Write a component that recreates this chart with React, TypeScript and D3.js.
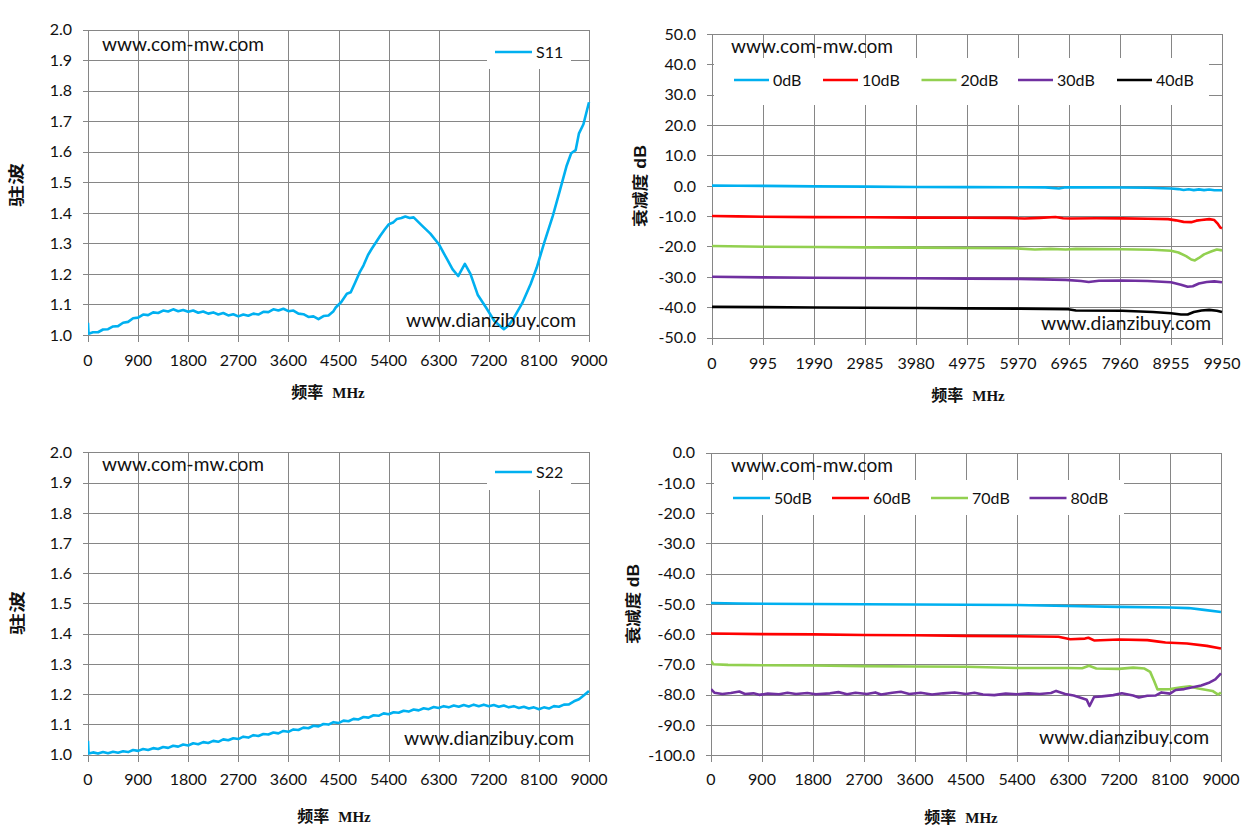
import React from "react";
import * as d3 from "d3";

type Pt = [number, number];

// ---------- DATA ----------
const freqTicks9000 = [0, 900, 1800, 2700, 3600, 4500, 5400, 6300, 7200, 8100, 9000];
const freqTicks9950 = [0, 995, 1990, 2985, 3980, 4975, 5970, 6965, 7960, 8955, 9950];
const vswrTicks = [1.0, 1.1, 1.2, 1.3, 1.4, 1.5, 1.6, 1.7, 1.8, 1.9, 2.0];
const attTicksTop = [50, 40, 30, 20, 10, 0, -10, -20, -30, -40, -50];
const attTicksBottom = [0, -10, -20, -30, -40, -50, -60, -70, -80, -90, -100];

const s11: Pt[] = [
  [0, 1.040], [10, 1.004], [90, 1.009], [180, 1.009], [270, 1.018], [360, 1.019], [450, 1.028],
  [540, 1.029], [630, 1.040], [720, 1.043], [810, 1.055], [900, 1.057], [990, 1.067], [1080, 1.065],
  [1170, 1.074], [1260, 1.072], [1350, 1.080], [1440, 1.077], [1530, 1.084], [1620, 1.078],
  [1710, 1.082], [1800, 1.076], [1890, 1.080], [1980, 1.073], [2070, 1.077], [2160, 1.070],
  [2250, 1.074], [2340, 1.067], [2430, 1.072], [2520, 1.064], [2610, 1.068], [2700, 1.061],
  [2790, 1.067], [2880, 1.063], [2970, 1.070], [3060, 1.067], [3150, 1.076], [3240, 1.075],
  [3330, 1.084], [3420, 1.080], [3510, 1.086], [3600, 1.078], [3690, 1.080], [3780, 1.070],
  [3870, 1.068], [3960, 1.059], [4050, 1.061], [4140, 1.052], [4230, 1.062], [4320, 1.064],
  [4410, 1.078], [4450, 1.090], [4550, 1.108], [4650, 1.135], [4720, 1.140], [4800, 1.172],
  [4880, 1.205], [4950, 1.228], [5030, 1.262], [5100, 1.283], [5180, 1.305], [5250, 1.325],
  [5330, 1.345], [5400, 1.362], [5480, 1.368], [5550, 1.380], [5630, 1.383], [5700, 1.388],
  [5780, 1.383], [5850, 1.385], [6000, 1.358], [6150, 1.332], [6300, 1.298], [6450, 1.248],
  [6550, 1.215], [6650, 1.193], [6770, 1.233], [6870, 1.200], [7000, 1.132], [7150, 1.090],
  [7300, 1.046], [7470, 1.019], [7560, 1.032], [7650, 1.056], [7800, 1.104], [7950, 1.166],
  [8060, 1.220], [8200, 1.305], [8350, 1.390], [8480, 1.475], [8600, 1.555], [8680, 1.595],
  [8760, 1.605], [8820, 1.660], [8900, 1.690], [9000, 1.762],
];

const s22: Pt[] = [
  [0, 1.045], [10, 1.003], [90, 1.007], [180, 1.003], [270, 1.008], [360, 1.004], [450, 1.009],
  [540, 1.006], [630, 1.011], [720, 1.008], [810, 1.015], [900, 1.012], [990, 1.018], [1080, 1.015],
  [1170, 1.021], [1260, 1.018], [1350, 1.025], [1440, 1.022], [1530, 1.029], [1620, 1.026],
  [1710, 1.033], [1800, 1.030], [1890, 1.037], [1980, 1.034], [2070, 1.041], [2160, 1.038],
  [2250, 1.045], [2340, 1.042], [2430, 1.050], [2520, 1.047], [2610, 1.054], [2700, 1.051],
  [2790, 1.059], [2880, 1.056], [2970, 1.064], [3060, 1.061], [3150, 1.068], [3240, 1.066],
  [3330, 1.073], [3420, 1.070], [3510, 1.078], [3600, 1.075], [3690, 1.083], [3780, 1.081],
  [3870, 1.089], [3960, 1.087], [4050, 1.095], [4140, 1.093], [4230, 1.101], [4320, 1.099],
  [4410, 1.107], [4500, 1.104], [4590, 1.112], [4680, 1.110], [4770, 1.118], [4860, 1.116],
  [4950, 1.124], [5040, 1.122], [5130, 1.130], [5220, 1.128], [5310, 1.136], [5400, 1.133],
  [5490, 1.140], [5580, 1.138], [5670, 1.145], [5760, 1.142], [5850, 1.149], [5940, 1.146],
  [6030, 1.153], [6120, 1.150], [6210, 1.157], [6300, 1.154], [6390, 1.160], [6480, 1.156],
  [6570, 1.162], [6660, 1.158], [6750, 1.164], [6840, 1.159], [6930, 1.165], [7020, 1.160],
  [7110, 1.165], [7200, 1.160], [7290, 1.164], [7380, 1.158], [7470, 1.162], [7560, 1.156],
  [7650, 1.160], [7740, 1.154], [7830, 1.158], [7920, 1.152], [8010, 1.156], [8100, 1.150],
  [8190, 1.156], [8280, 1.152], [8370, 1.160], [8460, 1.158], [8550, 1.165], [8640, 1.166],
  [8730, 1.176], [8820, 1.183], [8910, 1.196], [9000, 1.210],
];

const att0: Pt[] = [
  [0, 0.05], [500, 0.0], [995, -0.05], [2000, -0.2], [3000, -0.3], [4000, -0.4], [5000, -0.45],
  [6000, -0.5], [6500, -0.55], [6770, -0.9], [6900, -0.5], [7500, -0.55], [8000, -0.6],
  [8500, -0.65], [8950, -0.9], [9100, -1.1], [9200, -1.4], [9300, -1.15], [9400, -1.45],
  [9500, -1.2], [9600, -1.45], [9700, -1.25], [9800, -1.5], [9950, -1.5],
];
const att10: Pt[] = [
  [0, -9.95], [500, -10.1], [1000, -10.2], [2000, -10.35], [3000, -10.4], [4000, -10.5],
  [5000, -10.55], [5800, -10.6], [6100, -10.8], [6400, -10.6], [6700, -10.3], [6850, -10.7],
  [7000, -10.8], [7500, -10.7], [8000, -10.75], [8500, -10.85], [8900, -11.0], [9050, -11.4],
  [9200, -11.9], [9350, -12.0], [9450, -11.5], [9550, -11.3], [9700, -11.0], [9800, -11.3],
  [9870, -12.6], [9920, -13.8], [9950, -14.0],
];
const att20: Pt[] = [
  [0, -19.85], [1000, -20.1], [2000, -20.2], [3000, -20.3], [4000, -20.4], [5000, -20.5],
  [5900, -20.6], [6300, -21.0], [6600, -20.8], [6900, -21.0], [7100, -20.8], [8000, -20.9],
  [8600, -21.1], [8955, -21.4], [9100, -22.0], [9250, -23.2], [9350, -24.3], [9420, -24.6],
  [9500, -23.8], [9600, -22.6], [9750, -21.6], [9850, -21.0], [9950, -21.3],
];
const att30: Pt[] = [
  [0, -29.98], [1000, -30.2], [2000, -30.3], [3000, -30.4], [4000, -30.5], [5000, -30.6],
  [6000, -30.7], [6900, -31.0], [7200, -31.4], [7350, -31.7], [7550, -31.3], [8000, -31.2],
  [8500, -31.4], [8955, -31.8], [9150, -32.6], [9280, -33.3], [9380, -33.1], [9500, -32.2],
  [9650, -31.7], [9800, -31.5], [9950, -31.8],
];
const att40: Pt[] = [
  [0, -39.9], [1000, -40.0], [2000, -40.1], [3000, -40.2], [4000, -40.3], [5000, -40.4],
  [6000, -40.5], [6950, -40.7], [7100, -41.1], [8000, -41.2], [8600, -41.6], [8955, -42.0],
  [9150, -42.4], [9280, -42.4], [9400, -41.6], [9550, -41.1], [9700, -40.9], [9850, -41.2],
  [9950, -41.6],
];

const att50: Pt[] = [
  [0, -49.7], [500, -49.9], [1800, -50.05], [3600, -50.2], [5400, -50.4], [6300, -50.7],
  [7200, -51.0], [8100, -51.2], [8430, -51.4], [8700, -52.0], [9000, -52.7],
];
const att60: Pt[] = [
  [0, -59.8], [900, -60.0], [1800, -60.1], [2700, -60.3], [3600, -60.4], [4500, -60.6],
  [5400, -60.7], [6130, -60.9], [6340, -61.7], [6600, -61.5], [6660, -61.2], [6760, -62.1],
  [7200, -61.8], [7700, -62.0], [7900, -62.5], [8020, -62.8], [8400, -63.1], [8750, -63.9],
  [9000, -64.8],
];
const att70: Pt[] = [
  [0, -68.8], [40, -70.0], [300, -70.2], [900, -70.3], [1800, -70.4], [2700, -70.6],
  [3600, -70.7], [4500, -70.8], [5400, -71.2], [6300, -71.2], [6550, -71.3], [6670, -70.5],
  [6800, -71.4], [7200, -71.5], [7450, -71.1], [7650, -71.4], [7750, -72.5], [7820, -75.5],
  [7880, -78.3], [8100, -78.2], [8300, -77.6], [8450, -77.3], [8600, -78.0], [8850, -78.8],
  [8950, -80.0], [9000, -79.3],
];
const att80: Pt[] = [
  [0, -78.2], [60, -79.4], [200, -79.8], [350, -79.5], [500, -79.0], [600, -79.8], [750, -79.6],
  [850, -80.1], [1000, -79.7], [1200, -79.9], [1350, -79.4], [1500, -79.8], [1700, -79.5],
  [1850, -79.9], [2100, -79.6], [2250, -79.2], [2400, -79.9], [2550, -79.4], [2750, -79.8],
  [2900, -79.3], [3000, -80.0], [3200, -79.4], [3350, -79.1], [3500, -79.8], [3700, -79.4],
  [3900, -80.0], [4100, -79.6], [4300, -79.3], [4500, -79.8], [4650, -79.4], [4800, -80.0],
  [5000, -80.2], [5200, -79.7], [5400, -79.9], [5600, -79.6], [5800, -79.8], [6000, -79.5],
  [6090, -78.8], [6250, -79.8], [6400, -80.3], [6550, -81.2], [6630, -81.7], [6680, -83.8],
  [6760, -80.8], [6900, -80.6], [7100, -80.2], [7250, -79.6], [7450, -80.3], [7550, -81.0],
  [7700, -80.4], [7850, -80.3], [7950, -79.3], [8100, -79.7], [8200, -78.5], [8350, -78.2],
  [8500, -77.6], [8650, -77.0], [8800, -76.0], [8900, -75.0], [9000, -73.0],
];

const BLUE = "#00B0F0";
const RED = "#FF0000";
const GREEN = "#92D050";
const PURPLE = "#7030A0";
const BLACK = "#000000";

// ---------- LAYOUT / STYLE ----------
const GRID = "#868686";
const TICK_FONT = "Lato, 'Liberation Sans', sans-serif";
const CJK_FONT = "'Noto Sans CJK SC', sans-serif";

type Series = { name: string; color: string; data: Pt[] };
type LegendCfg = { box: [number, number, number, number]; cy: number; itemX: number[]; lineLen: number };
type PanelCfg = {
  id: string;
  left: number; right: number; top: number; bottom: number;
  xDomain: [number, number]; xTicks: number[];
  yDomain: [number, number]; yTicks: number[];
  series: Series[];
  legend: LegendCfg;
  xTickY: number;
  yTitle: string; yTitleX: number; yTitleY: number; yTitleLen: number; yTitleDb: boolean;
  xTitleX: number; xTitleY: number;
  wm1: [number, number]; wm2: [number, number];
};

const panels: PanelCfg[] = [
  {
    id: "p1", left: 88, right: 589, top: 29.5, bottom: 335,
    xDomain: [0, 9000], xTicks: freqTicks9000, yDomain: [1, 2], yTicks: vswrTicks,
    series: [{ name: "S11", color: BLUE, data: s11 }],
    legend: { box: [487, 31, 84, 38], cy: 52, itemX: [495], lineLen: 37 },
    xTickY: 360,
    yTitle: "驻波", yTitleX: 16, yTitleY: 185, yTitleLen: 44, yTitleDb: false,
    xTitleX: 328, xTitleY: 392,
    wm1: [102, 51], wm2: [406, 327],
  },
  {
    id: "p2", left: 712, right: 1222, top: 34, bottom: 337.5,
    xDomain: [0, 9950], xTicks: freqTicks9950, yDomain: [-50, 50], yTicks: attTicksTop,
    series: [
      { name: "0dB", color: BLUE, data: att0 },
      { name: "10dB", color: RED, data: att10 },
      { name: "20dB", color: GREEN, data: att20 },
      { name: "30dB", color: PURPLE, data: att30 },
      { name: "40dB", color: BLACK, data: att40 },
    ],
    legend: { box: [714, 58, 495, 47], cy: 80, itemX: [734, 823, 921.5, 1018, 1117], lineLen: 35 },
    xTickY: 363,
    yTitle: "衰减度", yTitleX: 640, yTitleY: 186, yTitleLen: 82, yTitleDb: true,
    xTitleX: 968, xTitleY: 395,
    wm1: [731, 53], wm2: [1041, 330],
  },
  {
    id: "p3", left: 88, right: 589, top: 452.3, bottom: 754.5,
    xDomain: [0, 9000], xTicks: freqTicks9000, yDomain: [1, 2], yTicks: vswrTicks,
    series: [{ name: "S22", color: BLUE, data: s22 }],
    legend: { box: [487, 453, 84, 37], cy: 472, itemX: [495], lineLen: 37 },
    xTickY: 779,
    yTitle: "驻波", yTitleX: 17, yTitleY: 613, yTitleLen: 44, yTitleDb: false,
    xTitleX: 334, xTitleY: 816,
    wm1: [102, 471], wm2: [404, 745],
  },
  {
    id: "p4", left: 711, right: 1221, top: 452.7, bottom: 755,
    xDomain: [0, 9000], xTicks: freqTicks9000, yDomain: [-100, 0], yTicks: attTicksBottom,
    series: [
      { name: "50dB", color: BLUE, data: att50 },
      { name: "60dB", color: RED, data: att60 },
      { name: "70dB", color: GREEN, data: att70 },
      { name: "80dB", color: PURPLE, data: att80 },
    ],
    legend: { box: [714, 480, 410, 35], cy: 498, itemX: [733, 832, 931, 1029.5], lineLen: 37 },
    xTickY: 779,
    yTitle: "衰减度", yTitleX: 633, yTitleY: 604, yTitleLen: 80, yTitleDb: true,
    xTitleX: 961, xTitleY: 817,
    wm1: [731, 472], wm2: [1039, 744],
  },
];

const crisp = (v: number) => Math.round(v) + 0.5;

function Panel({ cfg }: { cfg: PanelCfg }) {
  const x = d3.scaleLinear().domain(cfg.xDomain).range([cfg.left, cfg.right]);
  const y = d3.scaleLinear().domain(cfg.yDomain).range([cfg.bottom, cfg.top]);
  const line = d3.line<Pt>().x((d) => x(d[0])).y((d) => y(d[1]));
  const [bx, by, bw, bh] = cfg.legend.box;
  const L = crisp(cfg.left), R = crisp(cfg.right), T = crisp(cfg.top), B = crisp(cfg.bottom);
  return (
    <g>
      <defs>
        <clipPath id={`clip-${cfg.id}`}>
          <rect x={cfg.left} y={cfg.top - 2} width={cfg.right - cfg.left + 2} height={cfg.bottom - cfg.top + 4} />
        </clipPath>
      </defs>
      {/* grid */}
      <g stroke={GRID} strokeWidth={1} shapeRendering="crispEdges">
        {cfg.yTicks.map((t) => (
          <line key={`h${t}`} x1={L - 6} x2={R} y1={crisp(y(t))} y2={crisp(y(t))} />
        ))}
        {cfg.xTicks.map((t) => (
          <line key={`v${t}`} x1={crisp(x(t))} x2={crisp(x(t))} y1={T} y2={B + 6} />
        ))}
      </g>
      {/* legend box (covers gridlines) */}
      <rect x={bx} y={by} width={bw} height={bh} fill="#fff" />
      {cfg.series.map((s, i) => (
        <g key={s.name}>
          <line
            x1={cfg.legend.itemX[i]}
            x2={cfg.legend.itemX[i] + cfg.legend.lineLen}
            y1={cfg.legend.cy}
            y2={cfg.legend.cy}
            stroke={s.color}
            strokeWidth={2.5}
          />
          <text
            x={cfg.legend.itemX[i] + cfg.legend.lineLen + 4}
            y={cfg.legend.cy}
            dy="0.36em"
            fontFamily={TICK_FONT}
            fontSize={16}
            fill="#111"
          >
            {s.name}
          </text>
        </g>
      ))}
      {/* series */}
      <g clipPath={`url(#clip-${cfg.id})`}>
        {cfg.series.map((s) => (
          <path key={s.name} d={line(s.data) || ""} fill="none" stroke={s.color} strokeWidth={2.6} strokeLinejoin="round" />
        ))}
      </g>
      {/* y tick labels */}
      {cfg.yTicks.map((t) => (
        <text
          key={`yl${t}`}
          x={cfg.left - 16}
          y={y(t)}
          dy="0.36em"
          textAnchor="end"
          fontFamily={TICK_FONT}
          fontSize={16}
          fill="#111"
        >
          {t.toFixed(1)}
        </text>
      ))}
      {/* x tick labels */}
      {cfg.xTicks.map((t) => (
        <text
          key={`xl${t}`}
          x={x(t)}
          y={cfg.xTickY}
          dy="0.36em"
          textAnchor="middle"
          fontFamily={TICK_FONT}
          fontSize={16}
          fill="#111"
        >
          {t}
        </text>
      ))}
      {/* y title */}
      <text
        transform={`translate(${cfg.yTitleX},${cfg.yTitleY}) rotate(-90)`}
        textAnchor="middle"
        dy="0.36em"
        fontSize={16}
        fontWeight={700}
        fill="#111"
        textLength={cfg.yTitleLen}
        lengthAdjust="spacingAndGlyphs"
      >
        <tspan fontFamily={CJK_FONT}>{cfg.yTitle}</tspan>
        {cfg.yTitleDb ? <tspan fontFamily="'Liberation Sans', Arial, sans-serif"> dB</tspan> : null}
      </text>
      {/* x title */}
      <text x={cfg.xTitleX} y={cfg.xTitleY} dy="0.36em" textAnchor="middle" fontWeight={700} fill="#111" fontSize={16}>
        <tspan fontFamily={CJK_FONT}>频率</tspan>
        <tspan fontFamily="'Liberation Serif', serif" dx={9} fontSize={15}>MHz</tspan>
      </text>
      {/* watermarks */}
      <text x={cfg.wm1[0]} y={cfg.wm1[1]} fontFamily={TICK_FONT} fontSize={19} fill="#111" textLength={162} lengthAdjust="spacingAndGlyphs">
        www.com-mw.com
      </text>
      <text x={cfg.wm2[0]} y={cfg.wm2[1]} fontFamily={TICK_FONT} fontSize={19} fill="#111" textLength={170} lengthAdjust="spacingAndGlyphs">
        www.dianzibuy.com
      </text>
    </g>
  );
}

export default function App() {
  return (
    <svg
      width={1257}
      height={840}
      viewBox="0 0 1257 840"
      style={{ position: "absolute", left: 0, top: 0, display: "block", background: "#fff" }}
    >
      <rect x={0} y={0} width={1257} height={840} fill="#fff" />
      {panels.map((p) => (
        <Panel key={p.id} cfg={p} />
      ))}
    </svg>
  );
}
